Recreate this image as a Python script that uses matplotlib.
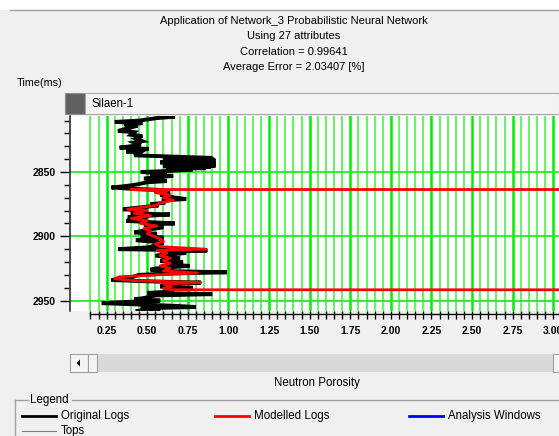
import numpy as np
import matplotlib
matplotlib.use("Agg")
import matplotlib.pyplot as plt
from matplotlib.patches import Rectangle, Polygon
from matplotlib.lines import Line2D
import matplotlib.transforms as mtransforms

plt.rcParams["font.family"] = ["Liberation Sans", "DejaVu Sans"]

W, H = 559, 436
BG = "#f0f0f0"

title_lines = [
    "Application of Network_3 Probabilistic Neural Network",
    "Using 27 attributes",
    "Correlation = 0.99641",
    "Average Error = 2.03407 [%]",
]
well_name = "Silaen-1"
x_label = "Neutron Porosity"
y_label = "Time(ms)"

# original log: time (ms) / neutron porosity
orig_time = [2806, 2807, 2808, 2810, 2811, 2812, 2813, 2814, 2816, 2818, 2819, 2821,
             2822, 2824, 2826, 2827, 2829, 2831, 2832, 2834, 2835, 2837, 2839, 2839.5,
             2840, 2840.5, 2841, 2841.5, 2842, 2842.5, 2843, 2843.5, 2844, 2844.5,
             2845, 2845.5, 2846, 2846.5, 2847, 2847.5, 2848, 2849, 2850, 2851, 2852,
             2853, 2855, 2857, 2858, 2860, 2861, 2862, 2863, 2864, 2865, 2866, 2868,
             2870, 2871, 2872, 2874, 2875, 2876, 2878, 2879, 2880, 2882, 2883, 2885,
             2887, 2888, 2890, 2891, 2893, 2895, 2897, 2898, 2900, 2901, 2903, 2905,
             2907, 2908, 2910, 2911, 2912, 2913, 2915, 2917, 2919, 2920, 2922, 2923,
             2925, 2926, 2927, 2928, 2929, 2930, 2932, 2934, 2935, 2936, 2937, 2938,
             2939, 2940, 2941, 2943, 2944, 2945, 2946, 2948, 2949, 2950, 2951, 2952,
             2953, 2954, 2955, 2956, 2957, 2958]
orig_por = [0.58, 0.67, 0.56, 0.45, 0.30, 0.47, 0.36, 0.44, 0.38, 0.32, 0.42, 0.40,
            0.47, 0.43, 0.47, 0.42, 0.46, 0.33, 0.51, 0.37, 0.45, 0.42, 0.90, 0.62,
            0.91, 0.60, 0.92, 0.63, 0.90, 0.58, 0.88, 0.62, 0.92, 0.64, 0.92, 0.60,
            0.89, 0.66, 0.86, 0.62, 0.78, 0.66, 0.46, 0.62, 0.52,
            0.66, 0.48, 0.62, 0.50, 0.42, 0.36, 0.28, 0.40, 0.60, 0.55, 0.64, 0.58,
            0.68, 0.74, 0.60, 0.60, 0.52, 0.57, 0.42, 0.35, 0.50, 0.40, 0.64, 0.38,
            0.50, 0.37, 0.67, 0.48, 0.60, 0.50, 0.42, 0.56, 0.46, 0.60, 0.43, 0.60,
            0.55, 0.58, 0.32, 0.87, 0.58, 0.74, 0.55, 0.70, 0.58, 0.72, 0.62, 0.76,
            0.55, 0.52, 0.60, 0.99, 0.62, 0.45, 0.40, 0.28, 0.50, 0.83, 0.60, 0.68,
            0.58, 0.78, 0.60, 0.66, 0.50, 0.90, 0.55, 0.48, 0.42, 0.58, 0.38, 0.22,
            0.44, 0.66, 0.80, 0.46, 0.58, 0.44]

# modelled log; first and last samples are the null value
NULL = 99.0
model_time = [2863.4, 2863.6, 2865, 2866, 2868, 2870, 2872, 2874, 2876, 2878, 2879,
              2880, 2882, 2884, 2886, 2888, 2890, 2892, 2894, 2896, 2898, 2900, 2902,
              2904, 2906, 2908, 2910, 2911, 2913, 2915, 2917, 2919, 2921, 2923, 2925,
              2927, 2928.5, 2930, 2931.5, 2933, 2934.5, 2936, 2937, 2939, 2940.5,
              2941.6, 2941.8]
model_por = [NULL, 0.40, 0.62, 0.55, 0.64, 0.60, 0.66, 0.58, 0.55, 0.44, 0.38,
             0.50, 0.42, 0.52, 0.40, 0.50, 0.46, 0.56, 0.48, 0.52, 0.50, 0.54, 0.58,
             0.60, 0.55, 0.58, 0.86, 0.56, 0.62, 0.58, 0.64, 0.60, 0.64, 0.58, 0.64,
             0.60, 0.81, 0.56, 0.33, 0.30, 0.42, 0.83, 0.60, 0.65, 0.60, 0.65, NULL]

x_ticks = [0.25, 0.50, 0.75, 1.00, 1.25, 1.50, 1.75, 2.00, 2.25, 2.50, 2.75, 3.00]
y_ticks = [2850, 2900, 2950]

legend_items = [("Original Logs", "black", 2.0), ("Modelled Logs", "red", 2.0),
                ("Analysis Windows", "blue", 2.0), ("Tops", "#808080", 0.8)]


def fx(px):
    return px / W


def fy(py):
    return 1 - py / H


fig = plt.figure(figsize=(W / 100, H / 100), dpi=100, facecolor=BG)

# white strip and frame line at the top
fig.add_artist(Rectangle((0, fy(10)), 1, 10 / H, transform=fig.transFigure,
                         facecolor="white", edgecolor="none"))
fig.add_artist(Line2D([fx(10), 1], [fy(10), fy(10)], color="#a0a0a0", lw=1))

for i, line in enumerate(title_lines):
    fig.text(fx(294), fy(21 + 15.4 * i), line, ha="center", va="center", fontsize=8.0)
fig.text(fx(17), fy(83), y_label, ha="left", va="center", fontsize=7.8)

# well header
fig.add_artist(Rectangle((fx(65), fy(114)), 20 / W, 21 / H, transform=fig.transFigure,
                         facecolor="#606060", edgecolor="#909090", lw=0.8))
fig.add_artist(Rectangle((fx(85), fy(114)), (W - 85) / W, 21 / H, transform=fig.transFigure,
                         facecolor="#f4f4f4", edgecolor="#a8a8a8", lw=0.8))
fig.text(fx(92), fy(104), well_name, ha="left", va="center", fontsize=8.3)

# log track
x0v, x1v = 0.0245, 3.035
t_top, t_bot = 2806.4, 2958.1
ax = fig.add_axes([fx(70), fy(311), (W - 70) / W, 195 / H])
ax.set_facecolor("white")
ax.set_xlim(x0v, x1v)
ax.set_ylim(t_bot, t_top)

grid_x = np.round(np.arange(0.15, 3.0001, 0.05), 2)
for gx in grid_x:
    major = abs(gx / 0.25 - round(gx / 0.25)) < 1e-6
    ax.axvline(gx, color="#00ee00" if major else "#3cf03c",
               lw=1.8 if major else 1.1, zorder=1)
for gy in y_ticks:
    ax.axhline(gy, color="#22ee22", lw=1.3, zorder=1)

ax.plot(orig_por, orig_time, color="black", lw=2.8, zorder=3, solid_joinstyle="miter")
ax.plot(model_por, model_time, color="red", lw=2.0, zorder=4)

for s in ("top", "right", "bottom"):
    ax.spines[s].set_visible(False)
ax.spines["left"].set_color("#303030")
ax.spines["left"].set_linewidth(1.2)

ax.set_yticks(y_ticks)
ax.set_yticklabels([str(t) for t in y_ticks], fontsize=7.5, fontweight="bold")
ax.set_yticks(np.arange(2810, 2951, 10), minor=True)
ax.tick_params(axis="y", which="major", length=7, width=1, pad=3)
ax.tick_params(axis="y", which="minor", length=4, width=1)

ax.set_xticks(x_ticks)
ax.set_xticklabels([f"{t:.2f}" for t in x_ticks], fontsize=7.5, fontweight="bold")
ax.set_xticks(grid_x, minor=True)
ax.tick_params(axis="x", which="both", length=6, width=1, pad=5, direction="out")

# ruler line under the track
trans = mtransforms.blended_transform_factory(ax.transData, ax.transAxes)
ax.plot([0.15, x1v + 0.1], [-0.015, -0.015], transform=trans, color="black", lw=1,
        clip_on=False)

# scroll bar
fig.add_artist(Rectangle((fx(88), fy(372)), (W - 88) / W, 18 / H, transform=fig.transFigure,
                         facecolor="#d9d9d9", edgecolor="none"))
fig.add_artist(Rectangle((fx(70), fy(372)), 18 / W, 18 / H, transform=fig.transFigure,
                         facecolor="#f4f4f4", edgecolor="#a0a0a0", lw=0.8))
fig.add_artist(Polygon([[fx(76.5), fy(363)], [fx(80), fy(359.5)], [fx(80), fy(366.5)]],
                       closed=True, transform=fig.transFigure, facecolor="black",
                       edgecolor="none"))
fig.add_artist(Rectangle((fx(88), fy(372)), 9 / W, 18 / H, transform=fig.transFigure,
                         facecolor="#f4f4f4", edgecolor="#a0a0a0", lw=0.8))
fig.add_artist(Rectangle((fx(553), fy(372)), 8 / W, 18 / H, transform=fig.transFigure,
                         facecolor="#f4f4f4", edgecolor="#a0a0a0", lw=0.8))

fig.text(fx(317), fy(383), x_label, ha="center", va="center", fontsize=8.3)

# legend group box
fig.add_artist(Line2D([fx(15), fx(28)], [fy(400), fy(400)], color="#a0a0a0", lw=1))
fig.add_artist(Line2D([fx(72), 1], [fy(400), fy(400)], color="#a0a0a0", lw=1))
fig.add_artist(Line2D([fx(15), fx(15)], [fy(400), 0], color="#a0a0a0", lw=1))
fig.text(fx(30), fy(400), "Legend", ha="left", va="center", fontsize=8.3)

legend_pos = [(22, 416), (215, 416), (409, 416), (22, 431)]
for (label, color, lw), (lx, ly) in zip(legend_items, legend_pos):
    fig.add_artist(Line2D([fx(lx), fx(lx + 34)], [fy(ly), fy(ly)], color=color, lw=lw))
    fig.text(fx(lx + 39), fy(ly), label, ha="left", va="center", fontsize=8.3)

fig.savefig("out.png", dpi=100, facecolor=BG)
